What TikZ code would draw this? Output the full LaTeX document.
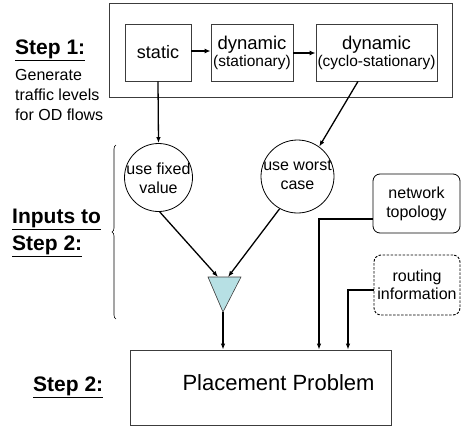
\documentclass[tikz,border=0pt]{standalone}
\usepackage{fontspec}
\setmainfont{Liberation Sans}
\usetikzlibrary{arrows.meta,decorations.pathreplacing}
\definecolor{tri}{RGB}{183,224,228}
\definecolor{edge}{RGB}{60,60,60}
\newcommand{\fsz}[2]{\fontsize{#1}{#2}\selectfont}
\begin{document}
\begin{tikzpicture}[x=1pt,y=-1pt,
  box/.style={draw=edge,line width=0.8pt,inner sep=0pt,align=center},
  circ/.style={draw=black,circle,line width=0.8pt,inner sep=0pt},
  txt/.style={inner sep=0pt,align=center,font=\fsz{16}{19}},
  arr/.style={-{Latex[length=6pt,width=4.5pt]},line width=1.3pt},
  tarr/.style={-{Latex[length=6pt,width=5pt]},line width=2pt},
  conn/.style={-{Latex[length=6pt,width=4.5pt]},line width=1.1pt},
  lbl/.style={inner sep=0pt,align=left,font=\fsz{21}{27}\bfseries}]
\useasboundingbox (0,0) rectangle (461,426);

% Step 1 frame and boxes
\node[box,minimum width=343pt,minimum height=94pt] (outer) at (280.5,50) {};
\node[box,minimum width=66pt,minimum height=57pt,font=\fsz{18}{20}] (static) at (158,52.5) {static};
\node[box,minimum width=82pt,minimum height=57pt,font=\fsz{18.5}{17}] (dyn) at (252,52.5) {dynamic\\{\fsz{15.5}{17}(stationary)}};
\node[box,minimum width=121pt,minimum height=57pt,font=\fsz{18.5}{17}] (cyclo) at (376.5,52.5) {dynamic\\{\fsz{15.5}{17}(cyclo-stationary)}};

% circles
\node[circ,minimum size=68pt] (fixed) at (158.5,177.5) {};
\node[txt] (fixedtxt) at (158.5,178) {use fixed\\value};
\node[circ,minimum size=73pt] (worst) at (297.5,176.5) {};
\node[txt] (worsttxt) at (297.5,175) {use worst\\case};

% side inputs
\node[box,draw=black,rounded corners=7pt,minimum width=87pt,minimum height=59pt,font=\fsz{16}{19}] (net) at (416.5,203.5) {network\\topology};
\node[box,draw=black,line width=0.9pt,dash pattern=on 2.5pt off 1.5pt,rounded corners=7pt,minimum width=86pt,minimum height=60pt,font=\fsz{16}{18}] (route) at (417,285) {routing\\information};

% placement
\node[box,minimum width=261pt,minimum height=75pt] (place) at (260.5,387.5) {};
\node[inner sep=0pt,font=\fsz{22}{24}] (placetxt) at (278.5,383) {Placement Problem};

% triangle
\coordinate (tl) at (208,277);
\coordinate (tr) at (241,277);
\coordinate (tapex) at (223,312);
\coordinate (tin1) at (218,277);
\coordinate (tin2) at (228,277);
\filldraw[fill=tri,draw=edge,line width=0.6pt] (tl) -- (tr) -- (tapex) -- cycle;

% connectors
\draw[tarr] (static.east |- 0,51) -- (dyn.west |- 0,51);
\draw[tarr] (dyn.east |- 0,53) -- (cyclo.west |- 0,53);
\draw[arr] (static.south) -- (fixed.north);
\draw[arr] (cyclo.south -| 358,0) -- (worst.54);
\draw[arr] (fixed.-88) -- (tin1);
\draw[arr] (worst.-119) -- (tin2);
\draw[arr] (tapex) -- (place.north -| tapex);
\draw[conn] (net.west |- 0,219) -| (place.north -| 319,0);
\draw[conn] (route.west |- 0,290) -| (place.north -| 348,0);

% brace
\draw[decorate,decoration={brace,amplitude=4pt},line width=0.6pt] (116,319) -- (116,145);

% labels
\node[lbl,anchor=west] (s1) at (15,50) {\underline{Step 1:}};
\node[inner sep=0pt,align=left,font=\fsz{16}{20},anchor=west] (gen) at (15,95) {Generate\\traffic levels\\for OD flows};
\node[lbl,anchor=west] (inp) at (12,233) {\underline{Inputs to}\\\underline{Step 2:}};
\node[lbl,anchor=west] (s2) at (33,387) {\underline{Step 2:}};
\end{tikzpicture}
\end{document}
